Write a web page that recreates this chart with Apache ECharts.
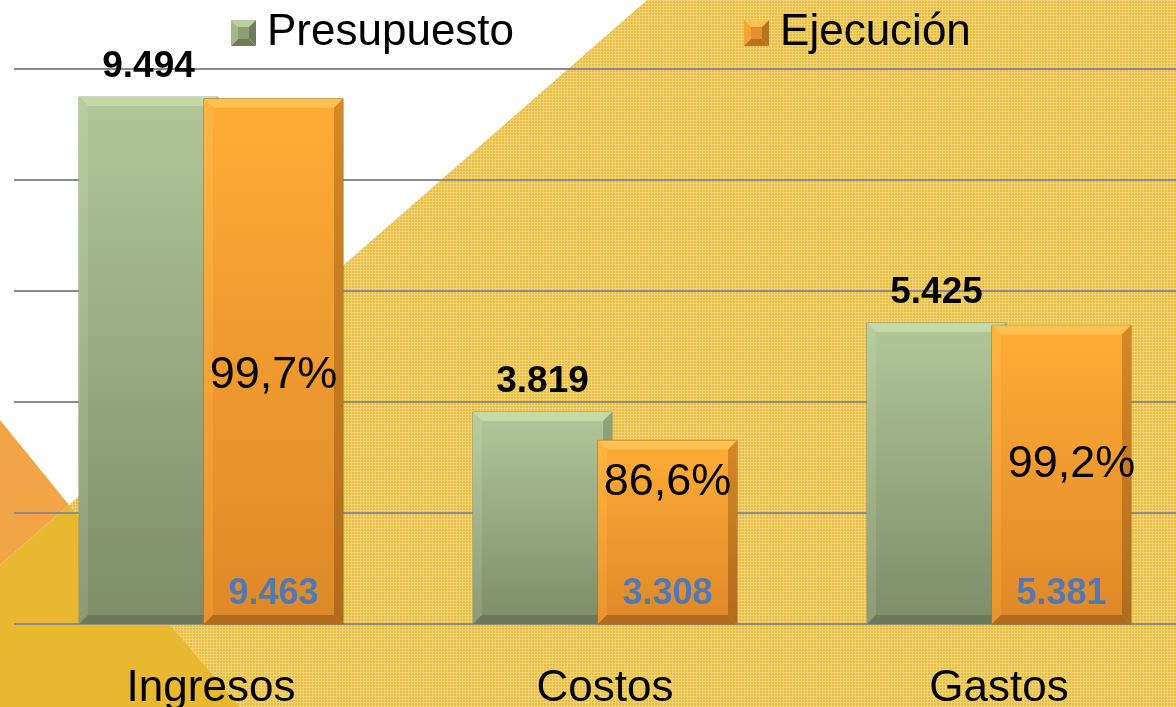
<!DOCTYPE html>
<html>
<head>
<meta charset="utf-8">
<script src="https://cdn.jsdelivr.net/npm/echarts@6/dist/echarts.min.js"></script>
<style>
  html, body { margin: 0; padding: 0; background: #fff; }
  #chart { width: 1176px; height: 707px; }
</style>
</head>
<body>
<div id="chart"></div>
<script>
// data
var categories = ['Ingresos', 'Costos', 'Gastos'];
var presupuesto = [9494, 3819, 5425];
var ejecucion = [9463, 3308, 5381];
var yTicks = [0, 2000, 4000, 6000, 8000, 10000];

// nudges for the % text boxes (they sit by hand in the original)
var pctDy = [14, -50, -10];
var pctDx = [0, 0, 10];

function fmt(n) {
  return String(n).replace(/\B(?=(\d{3})+(?!\d))/g, '.');
}
function pct(i) {
  return (ejecucion[i] / presupuesto[i] * 100).toFixed(1).replace('.', ',') + '%';
}

// little dotted texture for the yellow background
var tile = document.createElement('canvas');
tile.width = 3; tile.height = 3;
var tc = tile.getContext('2d');
tc.fillStyle = '#E7BE40'; tc.fillRect(0, 0, 3, 3);
tc.fillStyle = '#F0D174'; tc.fillRect(0, 0, 3, 1); tc.fillRect(0, 0, 1, 3);

// bevelled legend squares
function bevelIcon(light, mid, dark, face) {
  var cv = document.createElement('canvas');
  cv.width = 25; cv.height = 26;
  var g = cv.getContext('2d');
  var w = 25, h = 26, b = 7;
  function poly(pts, col) {
    g.fillStyle = col; g.beginPath(); g.moveTo(pts[0][0], pts[0][1]);
    for (var k = 1; k < pts.length; k++) g.lineTo(pts[k][0], pts[k][1]);
    g.closePath(); g.fill();
  }
  poly([[0, 0], [w, 0], [w - b, b], [b, b]], light);
  poly([[0, 0], [b, b], [b, h - b], [0, h]], mid);
  poly([[w, 0], [w, h], [w - b, h - b], [w - b, b]], dark);
  poly([[0, h], [b, h - b], [w - b, h - b], [w, h]], dark);
  g.fillStyle = face; g.fillRect(b, b, w - 2 * b, h - 2 * b);
  return 'image://' + cv.toDataURL();
}
var iconP = bevelIcon('#B9CFA0', '#A3B98B', '#6E7C5C', '#8E9E76');
var iconE = bevelIcon('#FFC050', '#F6A43A', '#B9721F', '#E48E2C');

var LG = echarts.graphic.LinearGradient;
var looks = {
  p: {
    body: new LG(0, 0, 0, 1, [{offset: 0, color: '#B1C799'}, {offset: 1, color: '#7E8C69'}]),
    top: '#C3D9A8',
    left: new LG(0, 0, 0, 1, [{offset: 0, color: '#B8CEA0'}, {offset: 1, color: '#8C9A76'}]),
    right: new LG(0, 0, 0, 1, [{offset: 0, color: '#92A47A'}, {offset: 1, color: '#6F7D5D'}]),
    bottom: '#6C795B',
    stroke: '#8A9A72'
  },
  e: {
    body: new LG(0, 0, 0, 1, [{offset: 0, color: '#FFAC35'}, {offset: 1, color: '#DE8829'}]),
    top: '#FFC250',
    left: new LG(0, 0, 0, 1, [{offset: 0, color: '#FFB440'}, {offset: 1, color: '#EA932E'}]),
    right: new LG(0, 0, 0, 1, [{offset: 0, color: '#D58826'}, {offset: 1, color: '#B06B1C'}]),
    bottom: '#B16C1D',
    stroke: '#A8701F'
  }
};

function barItem(kind) {
  return function (params, api) {
    var i = params.dataIndex;
    var c = api.value(0);
    var v = api.value(1);
    var catW = api.size([1, 0])[0];
    var bw = catW * 0.353;
    var shift = catW * 0.1586 * (kind === 'p' ? -1 : 1);
    var base = api.coord([c, 0]);
    var top = api.coord([c, v]);
    var cx = base[0] + shift;
    var x0 = cx - bw / 2, x1 = cx + bw / 2, y0 = top[1], y1 = base[1];
    var b = 9;
    var L = looks[kind];
    var kids = [
      {type: 'rect', shape: {x: x0, y: y0, width: bw, height: y1 - y0},
       style: {fill: L.body, stroke: L.stroke, lineWidth: 1}},
      {type: 'polygon', shape: {points: [[x0, y0], [x1, y0], [x1 - b, y0 + b], [x0 + b, y0 + b]]}, style: {fill: L.top}},
      {type: 'polygon', shape: {points: [[x0, y0], [x0 + b, y0 + b], [x0 + b, y1 - b], [x0, y1]]}, style: {fill: L.left}},
      {type: 'polygon', shape: {points: [[x1, y0], [x1, y1], [x1 - b, y1 - b], [x1 - b, y0 + b]]}, style: {fill: L.right}},
      {type: 'polygon', shape: {points: [[x0, y1], [x0 + b, y1 - b], [x1 - b, y1 - b], [x1, y1]]}, style: {fill: L.bottom}}
    ];
    if (kind === 'p') {
      kids.push({type: 'text', style: {text: fmt(v), x: cx, y: y0 - 30, align: 'center', verticalAlign: 'middle',
        font: 'bold 37px "Liberation Sans", Arial, sans-serif', fill: '#000'}});
    } else {
      kids.push({type: 'text', style: {text: pct(i), x: cx + pctDx[i], y: (y0 + y1) / 2 + pctDy[i], align: 'center', verticalAlign: 'middle',
        font: '45px "Liberation Sans", Arial, sans-serif', fill: '#000'}});
      kids.push({type: 'text', style: {text: fmt(v), x: cx, y: y1 - 30, align: 'center', verticalAlign: 'middle',
        font: 'bold 36px "Liberation Sans", Arial, sans-serif', fill: '#5079B4'}});
    }
    return {type: 'group', children: kids};
  };
}

var chart = echarts.init(document.getElementById('chart'));

var option = {
  backgroundColor: '#ffffff',
  animation: false,
  textStyle: {fontFamily: '"Liberation Sans", Arial, sans-serif'},
  graphic: {
    elements: [
      {type: 'polygon', z: -100, silent: true,
       shape: {points: [[647, 0], [1176, 0], [1176, 707], [240, 707], [69, 505]]},
       style: {fill: {image: tile, repeat: 'repeat'}}},
      {type: 'polygon', z: -100, silent: true,
       shape: {points: [[0, 420], [69, 505], [0, 565]]},
       style: {fill: '#F2A547'}},
      {type: 'polygon', z: -100, silent: true,
       shape: {points: [[69, 505], [240, 707], [0, 707], [0, 565]]},
       style: {fill: '#E8B830'}}
    ]
  },
  legend: {
    left: 226,
    top: 6,
    itemWidth: 25,
    itemHeight: 26,
    itemGap: 230,
    textStyle: {fontSize: 44, color: '#000', padding: [0, 0, 0, 6]},
    data: [
      {name: 'Presupuesto', icon: iconP},
      {name: 'Ejecución', icon: iconE}
    ]
  },
  grid: {left: 14, top: 69, width: 1182, height: 555, containLabel: false, outerBoundsMode: 'none'},
  xAxis: {
    type: 'category',
    data: categories,
    axisLine: {show: false},
    axisTick: {show: false},
    axisLabel: {fontSize: 44, color: '#000', margin: 43}
  },
  yAxis: {
    type: 'value',
    min: yTicks[0],
    max: yTicks[yTicks.length - 1],
    interval: yTicks[1] - yTicks[0],
    axisLabel: {show: false},
    axisLine: {show: false},
    axisTick: {show: false},
    splitLine: {lineStyle: {color: '#8C8C8C', width: 2}}
  },
  series: [
    {
      name: 'Presupuesto',
      type: 'custom',
      itemStyle: {color: '#9AB080'},
      renderItem: barItem('p'),
      encode: {x: 0, y: 1},
      data: presupuesto.map(function (v, i) { return [i, v]; })
    },
    {
      name: 'Ejecución',
      type: 'custom',
      itemStyle: {color: '#F09A2E'},
      renderItem: barItem('e'),
      encode: {x: 0, y: 1},
      data: ejecucion.map(function (v, i) { return [i, v]; })
    }
  ]
};

chart.setOption(option);
</script>
</body>
</html>
